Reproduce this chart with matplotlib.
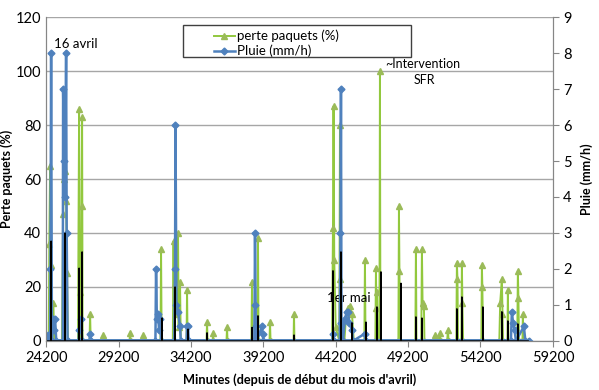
import matplotlib
matplotlib.use('Agg')
import matplotlib.pyplot as plt
from matplotlib.patches import Rectangle

plt.rcParams['font.family'] = ['Lato', 'DejaVu Sans']

# perte paquets (%) -- minutes / value
perte_t = [24200, 24380, 24420, 24476, 24520, 24560, 24700, 24760,
           25300, 25370, 25442, 25511, 25580, 25650, 25700,
           26400, 26478, 26520, 26600, 26650, 26685, 26720,
           27200, 27237, 27280, 28100, 28135, 28170, 29960, 29998, 30040,
           30860, 30896, 30930, 32100, 32138, 32180,
           32950, 33000, 33050, 33104, 33200, 33311, 33350, 33448, 33500,
           33900, 33933, 33970, 35280, 35314, 35350, 35700, 35728, 35760,
           36660, 36694, 36730, 38380, 38420, 38460, 38790, 38834, 38870,
           39630, 39663, 39700, 41290, 41320, 41350,
           43950, 44012, 44050, 44100, 44200, 44450, 44495, 44530, 44600,
           44800, 44900, 45050, 45200, 45323, 45450,
           46180, 46220, 46260, 46940, 46980, 47010, 47049, 47100,
           47220, 47256, 47290, 48530, 48568, 48600, 48640,
           49700, 49741, 49780, 50110, 50155, 50200, 50293, 50330,
           51000, 51053, 51100, 51300, 51398, 51450, 51900, 51950, 52000,
           52530, 52571, 52610, 52650, 52880, 52916, 52950, 53000,
           54260, 54297, 54330, 54380, 55500, 55560, 55678, 55720, 55760,
           56060, 56092, 56130, 56740, 56782, 56820, 56860,
           57100, 57127, 57160, 57500]
perte_v = [0, 0, 36, 65, 28, 0, 14, 0,
           0, 47, 60, 63, 52, 25, 0,
           0, 86, 18, 0, 50, 83, 0,
           0, 10, 0, 0, 2, 0, 0, 3, 0,
           0, 2, 0, 0, 34, 0,
           0, 37, 0, 21, 10, 40, 5, 22, 0,
           0, 19, 0, 0, 7, 0, 0, 3, 0,
           0, 5, 0, 0, 22, 0, 0, 38, 0,
           0, 7, 0, 0, 10, 0,
           0, 42, 87, 30, 5, 0, 80, 23, 0,
           0, 8, 12, 13, 10, 0,
           0, 30, 0, 0, 27, 12, 18, 0,
           0, 100, 0, 0, 50, 26, 0,
           0, 34, 0, 0, 34, 14, 13, 0,
           0, 2, 0, 0, 3, 0, 0, 4, 0,
           0, 29, 23, 0, 0, 29, 14, 0,
           0, 28, 20, 0, 0, 14, 23, 10, 0,
           0, 19, 0, 0, 26, 16, 0,
           0, 10, 0, 0]

# Pluie (mm/h)
pluie_t = [24200, 24338, 24480, 24500, 24545, 24600, 24683, 24750, 24821, 24900,
           25350, 25373, 25442, 25511, 25580, 25620, 25680,
           26450, 26478, 26600, 26700, 27200, 27237, 27300,
           31750, 31793, 31850, 31931, 32000, 32069, 32150,
           33050, 33104, 33135, 33200, 33311, 33448, 33500,
           33900, 33933, 34002, 34050,
           38580, 38600, 38627, 38680, 38750, 39110, 39150, 39200,
           43980, 44012, 44050, 44480, 44530, 44564, 44600,
           44700, 44840, 44950, 45047, 45150, 45323, 45400,
           46220, 46260, 56300, 56368, 56450, 56550, 56650, 57196, 57300, 57541]
pluie_v = [0, 0.15, 0, 2.0, 8.0, 0, 0.6, 0.3, 0.6, 0,
           0, 7.0, 5.0, 4.0, 8.0, 3.0, 0,
           0, 0.3, 0.6, 0, 0, 0.2, 0,
           0, 2.0, 0.6, 0.75, 0.3, 0.6, 0,
           0, 2.0, 6.0, 1.0, 0.8, 0.4, 0,
           0, 0.4, 0.4, 0,
           0, 1.0, 3.0, 0.4, 0, 0.4, 0.2, 0,
           0, 0.2, 0, 0, 3.0, 7.0, 0.5,
           0, 0.6, 0.8, 0.8, 0.5, 0.3, 0,
           0.2, 0, 0, 0.8, 0.5, 0.3, 0, 0.4, 0, 0]

# third series (black, no legend entry), in %
noir_t = [24200, 24535, 24545, 24555, 25500, 25511, 25520, 26468, 26478, 26488,
          26675, 26685, 26695, 32197, 32207, 32217, 33094, 33104, 33114,
          33992, 34002, 34012, 35304, 35314, 35324, 38410, 38420, 38430,
          38824, 38834, 38844, 41310, 41320, 41330, 44002, 44012, 44022,
          44554, 44564, 44574, 45313, 45323, 45333, 46280, 46290, 46300,
          47039, 47049, 47059, 47315, 47325, 47335, 48696, 48706, 48716,
          49731, 49741, 49751, 50145, 50155, 50165, 52561, 52571, 52581,
          52906, 52916, 52926, 54356, 54366, 54376, 55668, 55678, 55688,
          56082, 56092, 56102, 56772, 56782, 56792, 57500]
noir_v = [0, 0, 37, 0, 0, 40, 0, 0, 27, 0,
          0, 33, 0, 0, 8.5, 0, 0, 20, 0,
          0, 4.4, 0, 0, 3, 0, 0, 5, 0,
          0, 9.3, 0, 0, 2.2, 0, 0, 26, 0,
          0, 33, 0, 0, 6.7, 0, 0, 7, 0,
          0, 12.6, 0, 0, 25.6, 0, 0, 21.4, 0,
          0, 8.9, 0, 0, 8.5, 0, 0, 11.9, 0,
          0, 16.3, 0, 0, 12.6, 0, 0, 10.8, 0,
          0, 7.4, 0, 0, 6.3, 0, 0]

xticks = list(range(24200, 59201, 5000))

fig = plt.figure(figsize=(5.99, 3.90), dpi=100)
ax = fig.add_axes([0.077, 0.126, 0.846, 0.830])
ax2 = ax.twinx()

grey = '#868686'
ax.plot(perte_t, perte_v, color='#92C83E', lw=1.4, marker='^', ms=5,
        mfc='#9BBB59', mec='#9BBB59', label='perte paquets (%)')
ax2.plot(pluie_t, pluie_v, color='#4F81BD', lw=1.8, marker='D', ms=3.5,
         mfc='#4F81BD', mec='#4F81BD', label='Pluie (mm/h)')
ax2.plot([24200, 57541], [0, 0], color='#4F81BD', lw=3.5, solid_capstyle='butt')
ax2.plot(noir_t, noir_v, color='black', lw=0.9, transform=ax.transData)

ax.set_xlim(24200, 59200)
ax.set_ylim(0, 120)
ax2.set_ylim(0, 9)
ax.set_xticks(xticks)
ax.set_yticks(range(0, 121, 20))
ax2.set_yticks(range(0, 10))
ax.grid(axis='y', color='#A6A6A6', lw=1)
ax.set_axisbelow(True)

for a in (ax, ax2):
    a.spines['top'].set_visible(False)
    for s in ('left', 'right', 'bottom'):
        a.spines[s].set_color(grey)
    a.tick_params(colors=grey, labelcolor='black', labelsize=10.5, length=4)
ax.tick_params(axis='y', length=0)

ax.set_ylabel('Perte paquets (%)', fontsize=9, fontweight='bold', labelpad=2)
ax2.set_ylabel('Pluie (mm/h)', fontsize=9, fontweight='bold', labelpad=6)
ax.set_xlabel("Minutes (depuis de début du mois d'avril)", fontsize=9.2,
              fontweight='bold', labelpad=6)

ax.text(24720, 110, '16 avril', fontsize=9.5, va='center')
ax2.text(47620, 7.7, '~Intervention', fontsize=9, va='center')
ax2.text(50350, 7.25, 'SFR', fontsize=9, ha='center', va='center')
ax.text(43580, 16, '1er mai', fontsize=9.5, va='center')

# legend box
fig.patches.append(Rectangle((183 / 599, 1 - 57 / 390), 228 / 599, 32 / 390,
                             transform=fig.transFigure, fill=False,
                             edgecolor='#404040', lw=1))
h1, l1 = ax.get_legend_handles_labels()
h2, l2 = ax2.get_legend_handles_labels()
fig.legend(h1 + h2, l1 + l2, loc='upper left', bbox_to_anchor=(207 / 599, 1 - 23 / 390),
           frameon=False, fontsize=9.5, handlelength=1.6, handletextpad=0.2,
           labelspacing=0.2, borderpad=0)

fig.savefig('out.png', dpi=100)
